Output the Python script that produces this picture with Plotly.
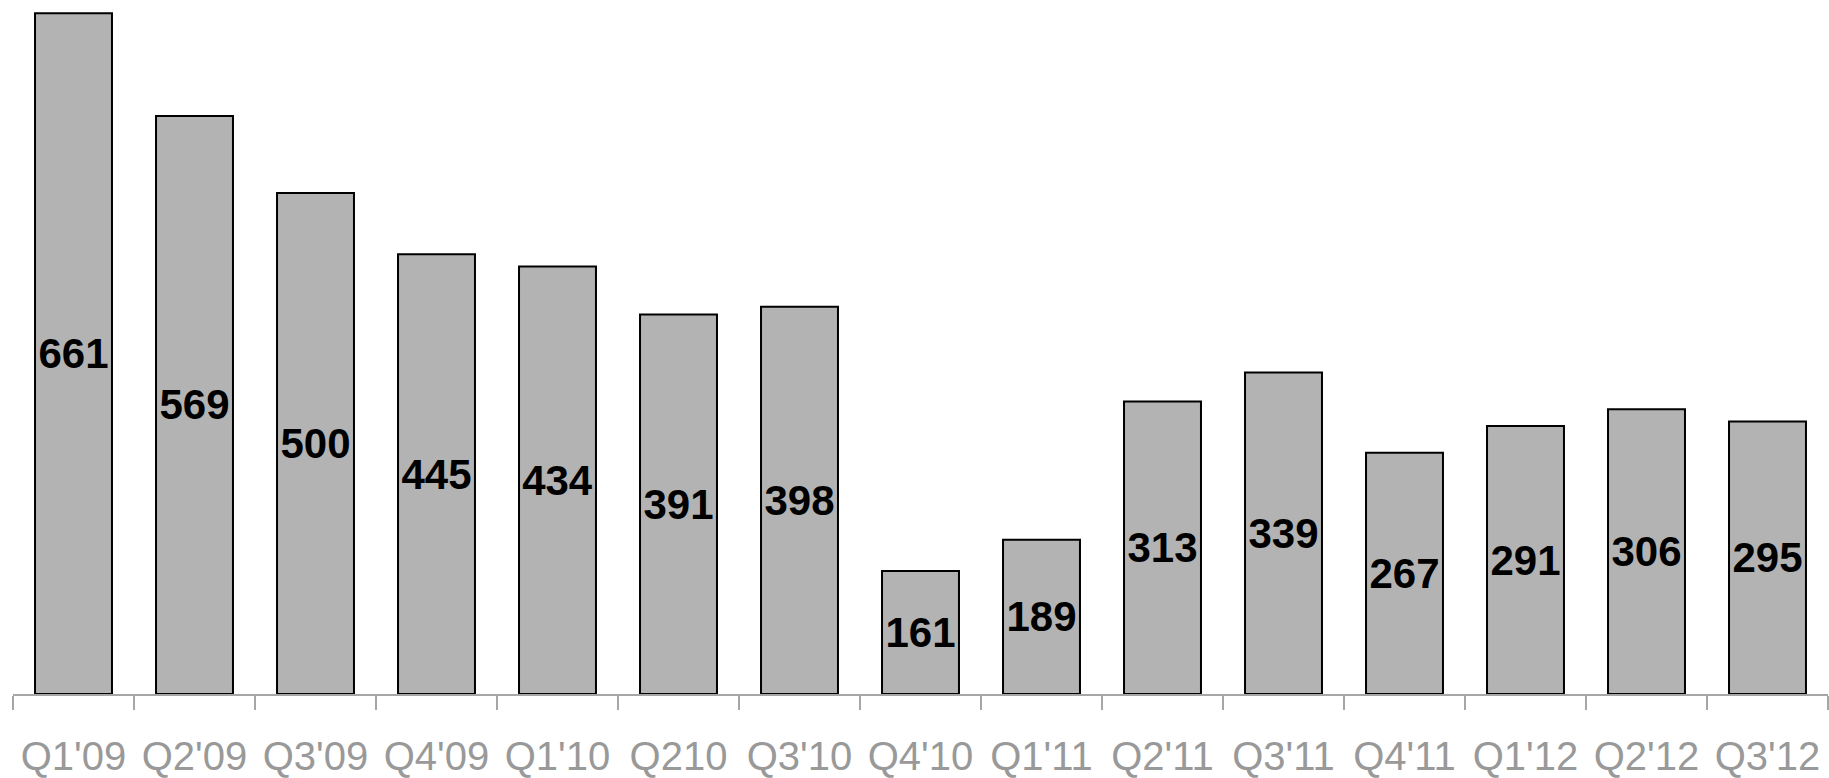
import plotly.graph_objects as go

categories = ["Q1'09", "Q2'09", "Q3'09", "Q4'09", "Q1'10", "Q210", "Q3'10", "Q4'10",
              "Q1'11", "Q2'11", "Q3'11", "Q4'11", "Q1'12", "Q2'12", "Q3'12"]
values = [661, 569, 500, 445, 434, 391, 398, 161, 189, 313, 339, 267, 291, 306, 295]

# value axis does not start at zero in the original chart
Y_MIN = 50.8
Y_MAX = 672.9

fig = go.Figure(go.Bar(
    x=categories,
    y=[v - Y_MIN for v in values],
    base=Y_MIN,
    text=[str(v) for v in values],
    textposition="inside",
    insidetextanchor="middle",
    constraintext="none",
    textangle=0,
    textfont=dict(family="Liberation Sans, Arial, sans-serif", size=42, color="black", weight="bold"),
    marker=dict(color="#b3b3b3", line=dict(color="black", width=2)),
    hovertext=[str(v) for v in values],
))

fig.update_layout(
    width=1829, height=778,
    margin=dict(l=13, r=1, t=0, b=82),
    plot_bgcolor="white", paper_bgcolor="white",
    bargap=0.364,
    showlegend=False,
    font=dict(family="Liberation Sans, Arial, sans-serif"),
)
fig.update_xaxes(
    showline=True, linecolor="#a6a6a6", linewidth=2,
    ticks="outside", ticklen=14, tickwidth=2, tickcolor="#a6a6a6",
    tickson="boundaries",
    tickfont=dict(size=40, color="#999999"),
    ticklabelstandoff=26,
    showgrid=False,
)
fig.update_yaxes(
    range=[Y_MIN, Y_MAX],
    visible=False,
    showgrid=False,
    zeroline=False,
)

fig.write_html("out.html")
